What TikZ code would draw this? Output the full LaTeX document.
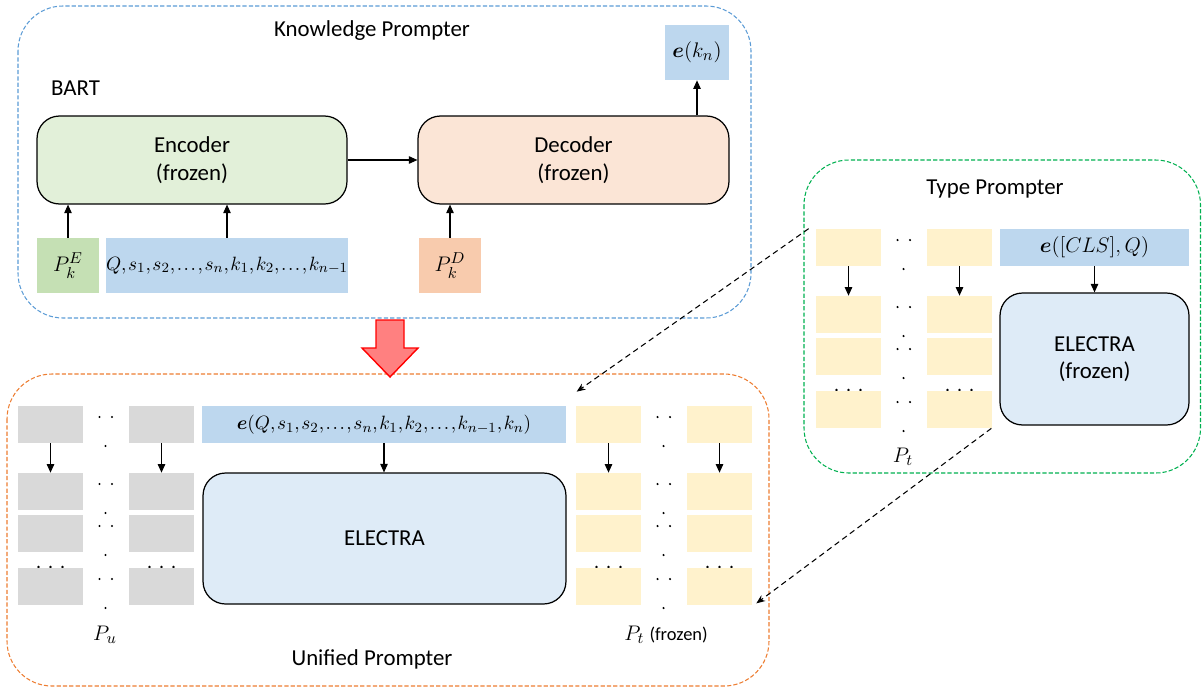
\documentclass[tikz,border=0pt]{standalone}
\usepackage{amsmath, amssymb}
\usepackage{fontspec}
\setmainfont{Carlito}
\usetikzlibrary{arrows.meta, positioning, calc}

\definecolor{kpblue}{HTML}{5B9BD5}
\definecolor{upor}{HTML}{ED7D31}
\definecolor{tpgreen}{HTML}{00B050}
\definecolor{encfill}{HTML}{E2F0D9}
\definecolor{decfill}{HTML}{FBE5D6}
\definecolor{seqblue}{HTML}{BDD7EE}
\definecolor{elfill}{HTML}{DEEBF7}
\definecolor{pkegreen}{HTML}{C5E0B4}
\definecolor{pkdor}{HTML}{F8CBAD}
\definecolor{cellgray}{HTML}{D9D9D9}
\definecolor{cellyel}{HTML}{FFF2CC}
\definecolor{redarrow}{HTML}{FF8080}

\begin{document}
\begin{tikzpicture}[x=0.02cm, y=-0.02cm, font=\fontsize{13}{15.6}\selectfont,
    >={Triangle[length=4.8pt, width=4.2pt]},
    frame/.style={line width=0.6pt, dash pattern=on 2.4pt off 1.2pt, rounded corners=0.9cm},
    model/.style={draw=black, line width=0.7pt, rounded corners=0.45cm, align=center, inner sep=0pt},
    tok/.style={inner sep=0pt, minimum height=1.1cm},
    cell/.style={inner sep=0pt, minimum width=1.3cm, minimum height=0.74cm},
    seqtext/.style={font=\fontsize{11}{13}\selectfont},
    link/.style={->, line width=0.6pt},
    jump/.style={-{Stealth[length=5pt, width=4pt]}, line width=0.6pt, dash pattern=on 3.2pt off 2.2pt}]

    \useasboundingbox (0,0) rectangle (1202,690);

    % the three prompters
    \draw[frame, draw=kpblue] (18,6) rectangle (751,318);
    \draw[frame, draw=upor] (7,374) rectangle (769,686);
    \draw[frame, draw=tpgreen] (804,160) rectangle (1200.5,473);

    \node (kptitle) at (372,31) {Knowledge Prompter};
    \node[anchor=west] (bart) at (45,88) {BART};
    \node (tptitle) at (995,189) {Type Prompter};
    \node (uptitle) at (372,659) {Unified Prompter};

    % BART
    \node[model, fill=encfill, minimum width=6.2cm, minimum height=1.76cm] (enc) at (192,160) {Encoder\\(frozen)};
    \node[model, fill=decfill, minimum width=6.22cm, minimum height=1.76cm] (dec) at (573.5,160) {Decoder\\(frozen)};
    \node[tok, fill=pkegreen, minimum width=1.24cm] (pke) at (68,265.5) {$P_k^E$};
    \node[tok, seqtext, fill=seqblue, minimum width=4.8cm] (seq) at (227,265.5)
        {$\thinmuskip=1.5mu Q,s_1,s_2,\ldots,s_n,k_1,k_2,\ldots,k_{n-1}$};
    \node[tok, fill=pkdor, minimum width=1.24cm] (pkd) at (450,265.5) {$P_k^D$};
    \node[tok, fill=seqblue, minimum width=1.28cm] (ekn) at (697,52.5) {$\boldsymbol{e}(k_n)$};

    \draw[link] (enc) -- (dec);
    \draw[link] (pke) -- (pke |- enc.south);
    \draw[link] (seq) -- (seq |- enc.south);
    \draw[link] (pkd) -- (pkd |- dec.south);
    \draw[link] (ekn |- dec.north) -- (ekn);

    % big arrow down
    \draw[red, fill=redarrow, line width=0.8pt] (376,320) -- (404,320) -- (404,348) -- (418,348)
        -- (390,377) -- (362,348) -- (376,348) -- cycle;

    % prompt columns
    \foreach \pre/\gx/\gy/\gc in {u/18/406/cellgray, v/576/406/cellyel, t/816/229/cellyel} {
        \foreach \dy in {0,67,109,162} {
            \fill ({\gx+81.5},{\gy+\dy+11}) circle (0.7pt) ({\gx+94},{\gy+\dy+11}) circle (0.7pt);
            \fill ({\gx+87.5},{\gy+\dy+40}) circle (0.7pt);
        }
        \foreach \cx in {32.5,143.5} {
            \fill ({\gx+\cx-12},{\gy+161}) circle (0.8pt) ({\gx+\cx},{\gy+161}) circle (0.8pt)
                ({\gx+\cx+12},{\gy+161}) circle (0.8pt);
        }
        \foreach \row/\dy in {1/0,2/67,3/109,4/162} {
            \foreach \col/\dx in {1/0,2/111} {
                \node[cell, fill=\gc] (\pre\col\row) at ({\gx+32.5+\dx},{\gy+18.5+\dy}) {};
            }
        }
        \draw[link] (\pre11) -- (\pre12);
        \draw[link] (\pre21) -- (\pre22);
    }

    % unified prompter
    \node[cell, seqtext, fill=seqblue, minimum width=7.28cm] (uin) at (384,424.5)
        {$\thinmuskip=1.5mu \boldsymbol{e}(Q,s_1,s_2,\ldots,s_n,k_1,k_2,\ldots,k_{n-1},k_n)$};
    \node[model, fill=elfill, minimum width=7.26cm, minimum height=2.62cm] (uel) at (384.5,538.5) {ELECTRA};
    \draw[link] (uin) -- (uin |- uel.north);
    \node (pu) at (105,635) {$P_u$};
    \node (ptf) at (666,635) {$P_t$ {\fontsize{10.5}{12}\selectfont(frozen)}};

    % type prompter
    \node[cell, fill=seqblue, minimum width=3.78cm] (tin) at (1094.5,247.5) {$\boldsymbol{e}([CLS],Q)$};
    \node[model, fill=elfill, minimum width=3.78cm, minimum height=2.64cm] (tel) at (1094.5,359) {ELECTRA\\(frozen)};
    \draw[link] (tin) -- (tel);
    \node (pt) at (903,457) {$P_t$};

    % copies of P_t
    \draw[jump] ([xshift=-0.14cm]t11.north west) -- ([xshift=0.02cm, yshift=0.28cm]v11.north west);
    \draw[jump] ([xshift=-0.02cm]t24.south east) -- ([xshift=0.08cm, yshift=0.04cm]v24.south east);
\end{tikzpicture}
\end{document}
